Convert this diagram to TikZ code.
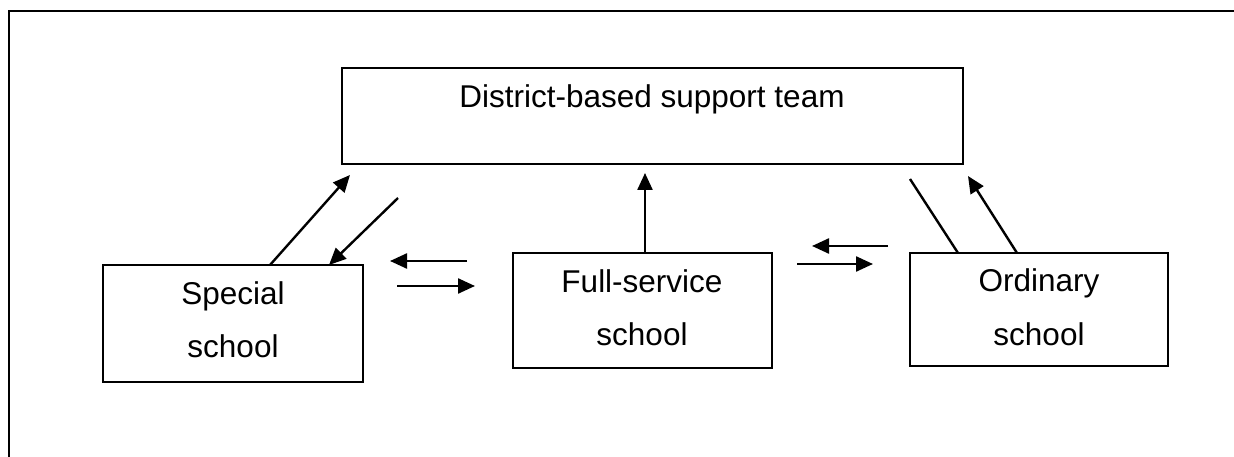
\documentclass[tikz,border=0pt]{standalone}
\usepackage{fontspec}
\setmainfont{Liberation Sans}
\usetikzlibrary{arrows.meta}
\begin{document}
\begin{tikzpicture}[x=1bp,y=-1bp,
  box/.style={draw,line width=2bp},
  lbl/.style={inner sep=0pt,anchor=base,font=\fontsize{31.5bp}{37bp}\selectfont},
  conn/.style={line width=2.4bp},
  arr/.style={conn,-{Triangle[length=17bp,width=15bp]}}]
\useasboundingbox (0,0) rectangle (1234,457);
\fill[white] (0,0) rectangle (1234,457);
% outer frame
\draw[line width=2.5bp] (9,457) -- (9,11) -- (1234,11);
% boxes
\draw[box] (342,68) rectangle (963,164);
\node[lbl] (dt) at (652,108) {District-based support team};
\draw[box] (103,265) rectangle (363,382);
\node[lbl] (s1) at (233,305) {Special};
\node[lbl] (s2) at (233,358) {school};
\draw[box] (513,253) rectangle (772,368);
\node[lbl] (f1) at (642,293) {Full-service};
\node[lbl] (f2) at (642,346) {school};
\draw[box] (910,253) rectangle (1168,366);
\node[lbl] (o1) at (1039,292) {Ordinary};
\node[lbl] (o2) at (1039,346) {school};
% connector end points
\coordinate (a1s) at (270,265); \coordinate (a1e) at (350,175);
\coordinate (a2s) at (398,198); \coordinate (a2e) at (329,265);
\coordinate (a3s) at (467,261); \coordinate (a3e) at (390,261);
\coordinate (a4s) at (397,286); \coordinate (a4e) at (475,286);
\coordinate (a5s) at (645,253); \coordinate (a5e) at (645,173);
\coordinate (a6s) at (888,246); \coordinate (a6e) at (812,246);
\coordinate (a7s) at (797,264); \coordinate (a7e) at (873,264);
\coordinate (a8s) at (910,179); \coordinate (a8e) at (958,253);
\coordinate (a9s) at (1017,253); \coordinate (a9e) at (968,176);
\draw[arr] (a1s) -- (a1e);
\draw[arr] (a2s) -- (a2e);
\draw[arr] (a3s) -- (a3e);
\draw[arr] (a4s) -- (a4e);
\draw[arr] (a5s) -- (a5e);
\draw[arr] (a6s) -- (a6e);
\draw[arr] (a7s) -- (a7e);
\draw[conn] (a8s) -- (a8e);
\draw[arr] (a9s) -- (a9e);
\end{tikzpicture}
\end{document}
